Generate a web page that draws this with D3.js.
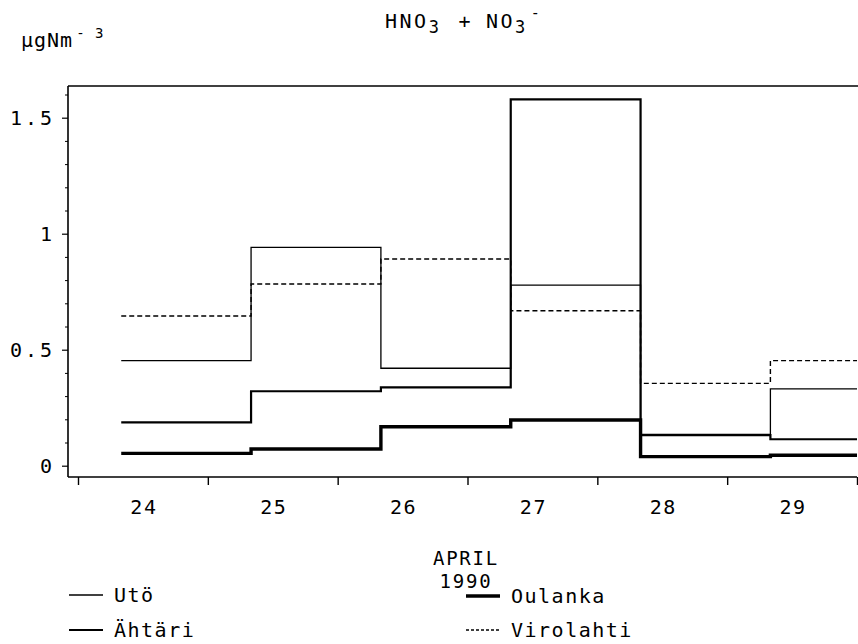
<!DOCTYPE html>
<html>
<head>
<meta charset="utf-8">
<script src="https://cdn.jsdelivr.net/npm/d3@7"></script>
<style>
  body { margin: 0; background: #fff; }
  svg text { font-family: "DejaVu Sans Mono", "Liberation Mono", monospace; fill: #000; }
</style>
</head>
<body>
<svg id="chart"></svg>
<script>
// data: sampling periods start at 08:00 on each day (day + 1/3)
let periodStart = [24.333, 25.333, 26.333, 27.333, 28.333, 29.333];
let uto = [0.453, 0.941, 0.42, 0.778, 0.135, 0.331];
let ahtari = [0.187, 0.321, 0.338, 1.579, 0.132, 0.114];
let oulanka = [0.053, 0.072, 0.168, 0.197, 0.039, 0.045];
let virolahti = [0.645, 0.783, 0.891, 0.668, 0.355, 0.453];
let dayTicks = [24, 25, 26, 27, 28, 29, 30];
let dayLabels = ["24", "25", "26", "27", "28", "29"];
let yMajor = [0, 0.5, 1, 1.5];
let yMinor = [0.1, 0.2, 0.3, 0.4, 0.6, 0.7, 0.8, 0.9, 1.1, 1.2, 1.3, 1.4, 1.6];

let width = 858, height = 644;
let frameLeft = 68, frameTop = 86, frameBottom = 477, frameRight = 858;

let svg = d3.select("#chart").attr("width", width).attr("height", height);

let xScale = d3.scaleLinear().domain([24, 30]).range([78, 857]);
let yScale = d3.scaleLinear().domain([0, 1.5]).range([465.7, 117.7]);

// frame: left axis, top line, bottom axis
svg.append("line")
  .attr("x1", frameLeft).attr("x2", frameLeft)
  .attr("y1", frameTop).attr("y2", frameBottom)
  .attr("stroke", "#000").attr("stroke-width", 1.6);
svg.append("line")
  .attr("x1", frameLeft).attr("x2", frameRight)
  .attr("y1", frameTop).attr("y2", frameTop)
  .attr("stroke", "#000").attr("stroke-width", 1.4);

// y axis
let yAxis = svg.append("g").attr("transform", "translate(" + frameLeft + ",0)");
yAxis.call(d3.axisLeft(yScale).tickValues(yMajor).tickSize(6).tickFormat(d => d))
  .select(".domain").remove();
yAxis.selectAll(".tick line").attr("stroke-width", 1.2);
yAxis.selectAll(".tick text")
  .attr("x", -13)
  .style("font-size", "20px")
  .style("letter-spacing", "3px");
let yAxisMinor = svg.append("g").attr("transform", "translate(" + frameLeft + ",0)");
yAxisMinor.call(d3.axisLeft(yScale).tickValues(yMinor).tickSize(3).tickFormat(""))
  .select(".domain").remove();

// x axis
let xAxis = svg.append("g").attr("transform", "translate(0," + frameBottom + ")");
xAxis.call(d3.axisBottom(xScale).tickValues(dayTicks).tickSize(8).tickFormat(""))
  .select(".domain").remove();
xAxis.selectAll(".tick line").attr("stroke-width", 1.4);
svg.append("line")
  .attr("x1", frameLeft).attr("x2", 857)
  .attr("y1", frameBottom).attr("y2", frameBottom)
  .attr("stroke", "#000").attr("stroke-width", 1.6);

svg.append("g").selectAll("text")
  .data(dayLabels)
  .enter()
  .append("text")
  .attr("x", (d) => xScale(+d + 0.5) + 1)
  .attr("y", 514)
  .attr("text-anchor", "middle")
  .style("font-size", "20px")
  .style("letter-spacing", "1.5px")
  .text((d) => d);

svg.append("text").attr("x", 466).attr("y", 565).attr("text-anchor", "middle")
  .style("font-size", "19px").style("letter-spacing", "1.8px").text("APRIL");
svg.append("text").attr("x", 466).attr("y", 588).attr("text-anchor", "middle")
  .style("font-size", "19px").style("letter-spacing", "1.8px").text("1990");

// title and unit
let title = svg.append("text").attr("x", 385).attr("y", 28)
  .style("font-size", "20px").style("letter-spacing", "2.5px");
title.append("tspan").text("HNO");
title.append("tspan").attr("dy", 5).style("font-size", "17px").text("3");
title.append("tspan").attr("dy", -5).attr("dx", 17).text("+");
title.append("tspan").attr("dx", 13).text("NO");
title.append("tspan").attr("dy", 5).style("font-size", "17px").text("3");
title.append("tspan").attr("dy", -15).attr("dx", 3).style("font-size", "15px").text("-");

let unit = svg.append("text").attr("x", 21).attr("y", 47)
  .style("font-size", "20px").style("letter-spacing", "1px");
unit.append("tspan").text("μgNm");
unit.append("tspan").attr("dy", -9).attr("dx", 3).style("font-size", "14px").text("- 3");

// step lines
svg.append("clipPath").attr("id", "plot-clip")
  .append("rect").attr("x", frameLeft).attr("y", frameTop)
  .attr("width", 857 - frameLeft).attr("height", frameBottom - frameTop);

let series = [
  { name: "Utö", values: uto, width: 1.3, dash: null },
  { name: "Ähtäri", values: ahtari, width: 2.2, dash: null },
  { name: "Oulanka", values: oulanka, width: 3.4, dash: null },
  { name: "Virolahti", values: virolahti, width: 1.4, dash: "5,3" }
];

let stepLine = d3.line()
  .x((d) => xScale(d[0]))
  .y((d) => yScale(d[1]))
  .curve(d3.curveStepAfter);

let plot = svg.append("g").attr("clip-path", "url(#plot-clip)");
series.forEach(function (s) {
  let pts = periodStart.map((t, i) => [t, s.values[i]]);
  pts.push([periodStart[periodStart.length - 1] + 1, s.values[s.values.length - 1]]);
  plot.append("path")
    .attr("d", stepLine(pts))
    .attr("fill", "none")
    .attr("stroke", "#000")
    .attr("stroke-width", s.width)
    .attr("stroke-dasharray", s.dash);
});

// legend
let legendPos = [
  { x: 69, y: 595 },
  { x: 69, y: 630 },
  { x: 466, y: 596 },
  { x: 466, y: 630 }
];
series.forEach(function (s, i) {
  let p = legendPos[i];
  svg.append("line")
    .attr("x1", p.x).attr("x2", p.x + 34)
    .attr("y1", p.y).attr("y2", p.y)
    .attr("stroke", "#000")
    .attr("stroke-width", s.width)
    .attr("stroke-dasharray", s.dash ? "3,2" : null);
  svg.append("text")
    .attr("x", p.x + 45)
    .attr("y", p.y + 7)
    .style("font-size", "20px")
    .style("letter-spacing", "1.5px")
    .text(s.name);
});
</script>
</body>
</html>
